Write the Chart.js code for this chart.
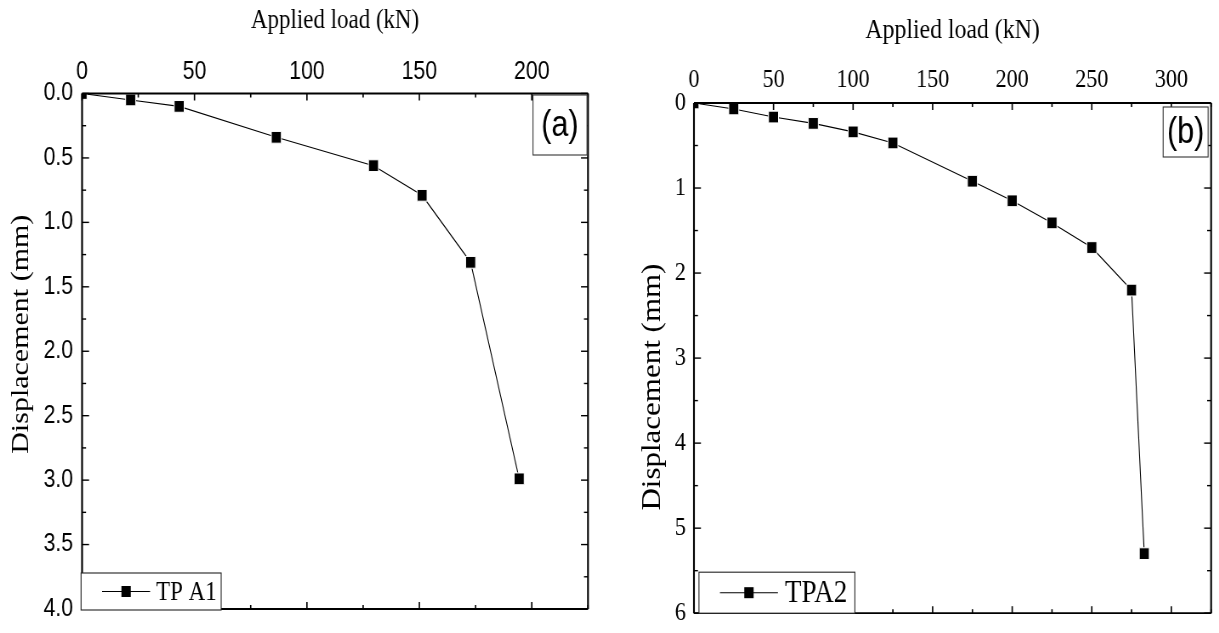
<!DOCTYPE html>
<html>
<head>
<meta charset="utf-8">
<script src="https://cdn.jsdelivr.net/npm/chart.js@4.4.1/dist/chart.umd.min.js"></script>
<style>
  html, body { margin: 0; background: #fff; }
  .panel { position: absolute; top: 0; height: 633px; }
  .panel canvas { display: block; }
</style>
</head>
<body>
<div class="panel" style="left:0;width:609px"><canvas id="chartA"></canvas></div>
<div class="panel" style="left:609px;width:610px"><canvas id="chartB"></canvas></div>
<script>
// panel (a) - TP A1
const loadA = [0, 21.6, 43.2, 86.4, 129.6, 151.2, 172.8, 194.4];
const dispA = [0, 0.05, 0.10, 0.34, 0.56, 0.79, 1.31, 2.99];
const xLabelsA = [0, 50, 100, 150, 200];
const yLabelsA = [0, 0.5, 1, 1.5, 2, 2.5, 3, 3.5, 4];

// panel (b) - TPA2
const loadB = [0, 25, 50, 75, 100, 125, 175, 200, 225, 250, 275, 283];
const dispB = [0, 0.07, 0.165, 0.24, 0.34, 0.47, 0.92, 1.15, 1.41, 1.70, 2.20, 5.30];
const xLabelsB = [0, 50, 100, 150, 200, 250, 300];
const yLabelsB = [0, 1, 2, 3, 4, 5, 6];

// the source figure is squeezed sideways: canvases are drawn wider and shrunk by css
const SQ = 0.85;
const H = 633;

function near(v, list) {
  return list.some(l => Math.abs(l - v) < 1e-6);
}

function setupCanvas(id, cssW) {
  const c = document.getElementById(id);
  c.width = Math.round(cssW / SQ);
  c.height = H;
  c.style.width = cssW + 'px';
  c.style.height = H + 'px';
  return c;
}

// inward ticks on all sides, frame, y title, legend box and panel tag
const boxes = {
  id: 'boxes',
  afterDraw(chart, args, o) {
    const ctx = chart.ctx, a = chart.chartArea;
    const x = chart.scales.x, y = chart.scales.y;
    const seg = (x1, y1, x2, y2) => {
      ctx.beginPath(); ctx.moveTo(x1, y1); ctx.lineTo(x2, y2); ctx.stroke();
    };
    ctx.save();
    ctx.strokeStyle = '#000';

    ctx.lineWidth = 1.4 / SQ;
    x.ticks.forEach(t => {
      const px = x.getPixelForValue(t.value);
      const len = near(t.value, o.xMajor) ? 7 : 4;
      seg(px, a.top, px, a.top + len);
      seg(px, a.bottom, px, a.bottom - len);
    });
    ctx.lineWidth = 1.4;
    y.ticks.forEach(t => {
      const py = y.getPixelForValue(t.value);
      const len = (near(t.value, o.yMajor) ? 7 : 4) / SQ;
      seg(a.left, py, a.left + len, py);
      seg(a.right, py, a.right - len, py);
    });

    ctx.lineWidth = 1.8;
    seg(a.left, a.top, a.right, a.top);
    seg(a.left, a.bottom, a.right, a.bottom);
    ctx.lineWidth = 1.8 / SQ;
    seg(a.left, a.top, a.left, a.bottom);
    seg(a.right, a.top, a.right, a.bottom);

    // y axis title, set a little off the axis centre as in the source
    const Y = o.yTitle;
    ctx.save();
    ctx.translate(Y.x / SQ, (a.top + a.bottom) / 2 + Y.dy);
    ctx.rotate(-Math.PI / 2);
    ctx.fillStyle = '#000';
    ctx.font = Y.size + 'px "Liberation Serif"';
    ctx.textAlign = 'center';
    ctx.textBaseline = 'middle';
    ctx.fillText(Y.text, 0, 0);
    ctx.restore();

    // legend
    const L = o.legend;
    const ds = chart.data.datasets[0];
    const lx = a.left + L.dx / SQ, lw = L.w / SQ, ly = a.bottom - L.h + L.dy;
    ctx.fillStyle = '#fff';
    ctx.fillRect(lx, ly, lw, L.h);
    ctx.strokeStyle = '#222';
    ctx.lineWidth = 1.1;
    ctx.strokeRect(lx, ly, lw, L.h);
    const cy = ly + L.h / 2;
    ctx.strokeStyle = '#000';
    seg(lx + L.lineFrom / SQ, cy, lx + L.lineTo / SQ, cy);
    ctx.fillStyle = '#000';
    const mx = lx + L.mark / SQ;
    ctx.fillRect(mx - 5.5, cy - 5.5, 11, 11);
    ctx.font = L.size + 'px "Liberation Serif"';
    ctx.textBaseline = 'middle';
    ctx.textAlign = 'left';
    ctx.fillText(ds.label, lx + L.textX / SQ, cy + 1);

    // panel tag
    const T = o.tag;
    const tw = T.w / SQ;
    const tx = a.right - T.dx / SQ - tw, ty = a.top + T.dy;
    ctx.fillStyle = '#fff';
    ctx.fillRect(tx, ty, tw, T.h);
    ctx.strokeStyle = '#333';
    ctx.lineWidth = 1.1;
    ctx.strokeRect(tx, ty, tw, T.h);
    ctx.fillStyle = '#000';
    ctx.font = T.size + 'px "Liberation Sans"';
    ctx.textAlign = 'center';
    ctx.fillText(T.text, tx + tw / 2, ty + T.h / 2 + 1);
    ctx.restore();
  }
};

function lineSet(label, xs, ys) {
  return {
    label: label,
    data: xs.map((v, i) => ({ x: v, y: ys[i] })),
    borderColor: '#000',
    borderWidth: 1.1,
    pointStyle: 'rect',
    pointRadius: 8.3,
    pointBackgroundColor: '#000',
    pointBorderColor: '#fff',
    pointBorderWidth: 1,
    tension: 0
  };
}

function makeChart(id, cssW, ds, cfg) {
  return new Chart(setupCanvas(id, cssW), {
    type: 'line',
    data: { datasets: [ds] },
    options: {
      responsive: false,
      animation: false,
      devicePixelRatio: 1,
      layout: { padding: { top: 0, left: 0, right: cfg.padRight / SQ, bottom: cfg.padBottom } },
      plugins: {
        legend: { display: false },
        tooltip: { enabled: false },
        boxes: cfg.boxes
      },
      scales: {
        x: {
          type: 'linear',
          position: 'top',
          min: 0,
          max: cfg.xMax,
          grid: { display: false, drawTicks: false },
          border: { display: false },
          ticks: {
            stepSize: 25,
            autoSkip: false,
            maxRotation: 0,
            padding: cfg.xTickPad,
            color: '#000',
            font: cfg.tickFont,
            callback: v => near(v, cfg.xLabels) ? String(v) : ''
          },
          title: {
            display: true,
            text: 'Applied load (kN)',
            color: '#000',
            font: { family: 'Liberation Serif', size: cfg.xTitleSize },
            padding: { top: cfg.xTitlePad, bottom: 0 }
          },
          afterFit: s => { s.height = cfg.top; }
        },
        y: {
          type: 'linear',
          position: 'left',
          reverse: true,
          min: 0,
          max: cfg.yMax,
          grid: { display: false, drawTicks: false },
          border: { display: false },
          ticks: {
            stepSize: cfg.yStep,
            autoSkip: false,
            padding: cfg.yTickPad / SQ,
            color: '#000',
            font: Object.assign({}, cfg.tickFont, { lineHeight: 0.8 }),
            callback: v => near(v, cfg.yLabels) ? cfg.yFmt(v) : ''
          },
          afterFit: s => { s.width = cfg.left / SQ; }
        }
      }
    },
    plugins: [boxes]
  });
}

makeChart('chartA', 609, lineSet('TP A1', loadA, dispA), {
  xMax: 225, yMax: 4, yStep: 0.25,
  xLabels: xLabelsA, yLabels: yLabelsA,
  yFmt: v => v.toFixed(1),
  tickFont: { family: 'Liberation Sans', size: 25 },
  top: 93.5, left: 82, padRight: 21, padBottom: 24,
  xTickPad: 6, yTickPad: 9, xTitlePad: 5, xTitleSize: 27,
  boxes: {
    xMajor: xLabelsA, yMajor: yLabelsA,
    yTitle: { text: 'Displacement (mm)', x: 21, dy: -17, size: 30 },
    legend: { dx: -1, dy: 1, w: 140, h: 37, lineFrom: 21, lineTo: 69, mark: 45, textX: 75, size: 27 },
    tag: { text: '(a)', dx: 1, dy: 1.5, w: 54, h: 60, size: 36 }
  }
});

makeChart('chartB', 610, lineSet('TPA2', loadB, dispB), {
  xMax: 325, yMax: 6, yStep: 0.5,
  xLabels: xLabelsB, yLabels: yLabelsB,
  yFmt: v => String(v),
  tickFont: { family: 'Liberation Serif', size: 26 },
  top: 103, left: 85, padRight: 4, padBottom: 10,
  xTickPad: 7, yTickPad: 8, xTitlePad: 14, xTitleSize: 28,
  boxes: {
    xMajor: xLabelsB, yMajor: yLabelsB,
    yTitle: { text: 'Displacement (mm)', x: 44, dy: 29, size: 31 },
    legend: { dx: 5, dy: 0, w: 156, h: 41, lineFrom: 21, lineTo: 79, mark: 50, textX: 86, size: 32 },
    tag: { text: '(b)', dx: 3, dy: 4, w: 45, h: 50, size: 36 }
  }
});
</script>
</body>
</html>
